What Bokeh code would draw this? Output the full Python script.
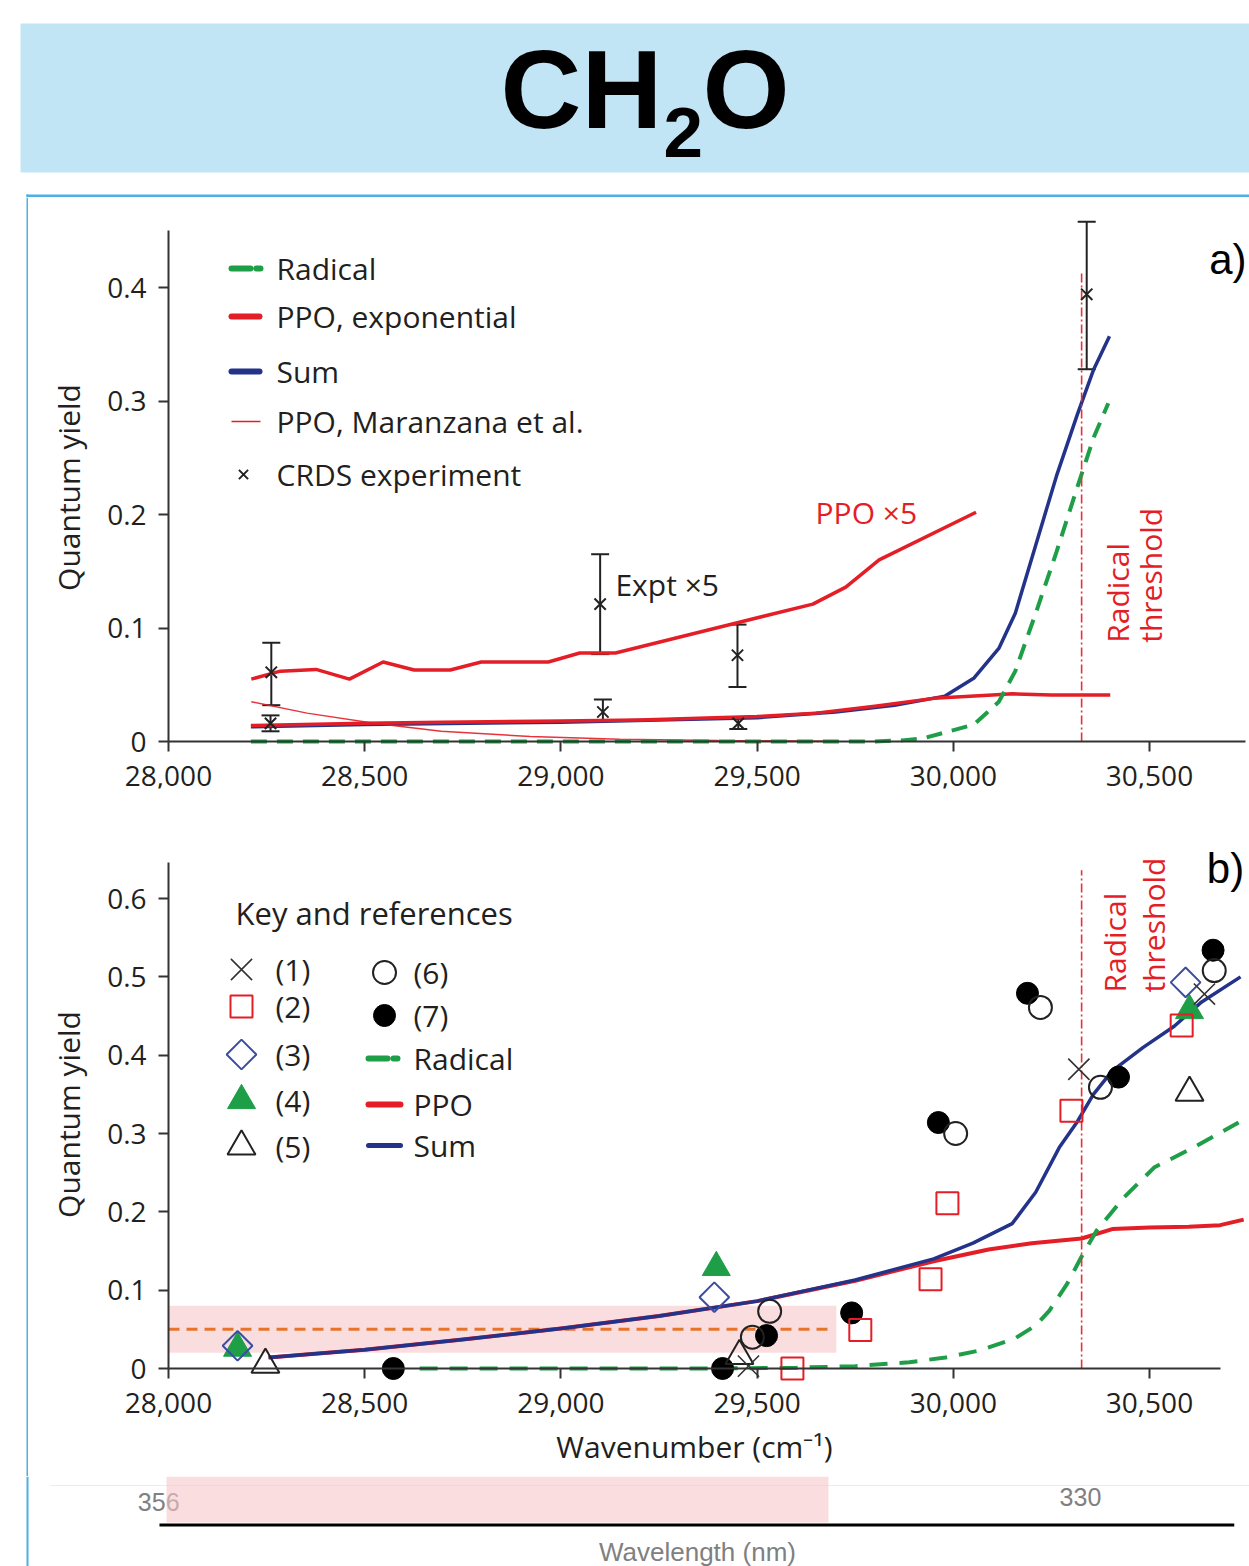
import math
from bokeh.plotting import figure
from bokeh.layouts import column, row
from bokeh.models import (Range1d, FixedTicker, NumeralTickFormatter, Whisker, TeeHead,
                          ColumnDataSource)
from bokeh.embed import file_html
from bokeh.resources import INLINE
from bokeh.core.properties import value

# ======================= DATA =======================
# ---- panel a ----
a_rad_wn = [28210, 28600, 29000, 29400, 29800, 29870, 29926, 30053, 30116, 30158, 30210, 30263, 30316, 30358, 30395]
a_rad_q = [0.0, 0.0, 0.0, 0.0, 0.0, 0.001, 0.003, 0.015, 0.035, 0.062, 0.113, 0.167, 0.224, 0.268, 0.298]
a_ppo_wn = [28210, 28500, 28700, 29000, 29200, 29500, 29650, 29800, 29950, 30100, 30150, 30250, 30400]
a_ppo_q = [0.014, 0.016, 0.017, 0.018, 0.019, 0.022, 0.025, 0.031, 0.038, 0.041, 0.042, 0.041, 0.041]
a_sum_wn = [28210, 28500, 29000, 29500, 29700, 29850, 29979, 30053, 30116, 30158, 30210, 30263, 30316, 30358, 30398]
a_sum_q = [0.013, 0.015, 0.017, 0.021, 0.026, 0.032, 0.040, 0.056, 0.082, 0.113, 0.173, 0.234, 0.288, 0.328, 0.357]
a_ppo5_wn = [28211, 28285, 28376, 28461, 28547, 28626, 28718, 28797, 28968, 29048, 29139, 29442, 29642, 29726, 29811, 30058]
a_ppo5_q = [0.055, 0.062, 0.0635, 0.055, 0.070, 0.063, 0.063, 0.070, 0.070, 0.078, 0.078, 0.104, 0.121, 0.136, 0.160, 0.202]
a_mar_wn = [28211, 28353, 28524, 28695, 28922, 29150, 29400, 29700]
a_mar_q = [0.035, 0.025, 0.016, 0.009, 0.0044, 0.002, 0.0008, 0.0002]
a_crds_wn = [28262, 29100, 29450, 28260, 29107, 29452, 30340]
a_crds_q = [0.061, 0.121, 0.076, 0.016, 0.026, 0.016, 0.394]
a_crds_hi = [0.087, 0.165, 0.103, 0.023, 0.037, 0.021, 0.458]
a_crds_lo = [0.032, 0.077, 0.048, 0.009, 0.018, 0.011, 0.328]
threshold_wn = 30327
a_threshold_top = 0.413

# ---- panel b ----
b_sum_wn = [28255, 28500, 28750, 29000, 29250, 29500, 29750, 29950, 30050, 30150, 30210, 30270, 30316, 30357, 30405, 30484, 30563, 30633, 30732]
b_sum_q = [0.014, 0.024, 0.037, 0.051, 0.067, 0.086, 0.113, 0.140, 0.160, 0.185, 0.225, 0.282, 0.315, 0.350, 0.380, 0.410, 0.437, 0.468, 0.500]
b_ppo_wn = [28255, 28500, 28750, 29000, 29250, 29500, 29750, 29950, 30090, 30200, 30327, 30405, 30500, 30600, 30680, 30740]
b_ppo_q = [0.014, 0.024, 0.037, 0.051, 0.067, 0.086, 0.112, 0.137, 0.152, 0.160, 0.166, 0.178, 0.180, 0.181, 0.183, 0.190]
b_rad_wn = [28640, 29000, 29400, 29600, 29750, 29888, 29980, 30067, 30156, 30210, 30245, 30290, 30326, 30365, 30436, 30513, 30612, 30727]
b_rad_q = [0.0, 0.0, 0.0, 0.001, 0.003, 0.008, 0.014, 0.023, 0.038, 0.055, 0.074, 0.108, 0.142, 0.176, 0.219, 0.257, 0.282, 0.314]
b_threshold_top = 0.636

ref1_wn = [30320, 30640, 29478]
ref1_q = [0.382, 0.478, 0.003]
ref2_wn = [29590, 29763, 29942, 29985, 30301, 30582]
ref2_q = [0.0, 0.049, 0.114, 0.211, 0.329, 0.438]
ref3_wn = [28176, 29391, 30592]
ref3_q = [0.029, 0.091, 0.493]
ref4_wn = [28176, 29396, 30602]
ref4_q = [0.026, 0.129, 0.457]
ref5_wn = [28247, 29455, 30602]
ref5_q = [0.005, 0.016, 0.352]
ref6_wn = [29488, 29532, 30006, 30222, 30375, 30665]
ref6_q = [0.040, 0.073, 0.300, 0.461, 0.359, 0.508]
ref7_wn = [28573, 29412, 29524, 29741, 29962, 30189, 30421, 30662]
ref7_q = [0.0, 0.0, 0.042, 0.071, 0.314, 0.479, 0.372, 0.534]

band_wn = [28000, 29702]      # pink band in panel b
band_q = [0.020, 0.080]
band_mid_q = 0.050
band_mid_end = 29682
wl_band_wn = [27995, 29682]   # pink band on the wavelength strip

a_yticks = [0, 0.1, 0.2, 0.3, 0.4]
b_yticks = [0, 0.1, 0.2, 0.3, 0.4, 0.5, 0.6]
xticks = [28000, 28500, 29000, 29500, 30000, 30500]
wl_labels = ["356", "330"]
wl_label_wn = [27975, 30324]

# ======================= STYLE / LAYOUT =======================
FONT = "Open Sans"
TXT = "#231f20"
GREEN = "#1f9e48"
RED = "#e41e26"
NAVY = "#24338a"
DBLUE = "#3a4da0"
PINK = "#f7c6ca"
ORANGE = "#e8742c"
AXC = "#333333"
FRAMEBLUE = "#4db0e5"

PX_PER_WN = 0.3924
FRAME_L = 168          # page x of 28,000 cm-1
PAGE_W = 1249
STRIP_W = 28
X0 = 28000.0
XMIN = X0 - (FRAME_L - STRIP_W) / PX_PER_WN
XMAX = X0 + (PAGE_W - FRAME_L) / PX_PER_WN
PANEL_W = PAGE_W - STRIP_W


def make_panel(height, ymin, ymax, yaxis_top, top, bottom):
    p = figure(width=PANEL_W, height=height,
               x_range=Range1d(XMIN, XMAX), y_range=Range1d(ymin, ymax),
               output_backend="svg", toolbar_location=None,
               min_border_left=0, min_border_right=0,
               min_border_top=top, min_border_bottom=bottom)
    p.grid.visible = False
    p.outline_line_color = None
    p.background_fill_color = "white"
    p.border_fill_color = "white"
    for ax in (p.xaxis[0], p.yaxis[0]):
        ax.axis_line_color = AXC
        ax.axis_line_width = 2
        ax.major_tick_line_color = AXC
        ax.major_tick_line_width = 2
        ax.major_tick_in = 0
        ax.major_tick_out = 10
        ax.minor_tick_line_color = None
        ax.major_label_text_font = FONT
        ax.major_label_text_font_size = "28px"
        ax.major_label_text_color = TXT
        ax.axis_label_text_font = FONT
        ax.axis_label_text_font_size = "30px"
        ax.axis_label_text_font_style = "normal"
        ax.axis_label_text_color = TXT
    p.xaxis.fixed_location = 0
    p.xaxis.ticker = FixedTicker(ticks=xticks)
    p.xaxis.formatter = NumeralTickFormatter(format="0,0")
    p.xaxis.major_label_standoff = 14
    p.yaxis.fixed_location = X0
    p.yaxis.formatter = NumeralTickFormatter(format="0.[0]")
    p.yaxis.major_label_standoff = 12
    p.yaxis.bounds = (0, yaxis_top)
    return p


def tx(p, x, y, s, color=TXT, size="30px", font=FONT, align="left", baseline="middle",
       angle=0.0, style="normal", **kw):
    p.text(x=[x], y=[y], text=[s], text_color=color, text_font=value(font),
           text_font_size=value(size), text_align=align, text_baseline=baseline,
           angle=angle, text_font_style=style, **kw)


def bare(width, height, xr, yr):
    f = figure(width=width, height=height, x_range=xr, y_range=yr,
               output_backend="svg", toolbar_location=None, min_border=0,
               x_axis_location=None, y_axis_location=None)
    f.grid.visible = False
    f.outline_line_color = None
    return f


# ---------------- title ----------------
title = bare(PAGE_W, 197, Range1d(0, PAGE_W), Range1d(197, 0))
title.quad(left=20, right=PAGE_W, top=23, bottom=172, fill_color="#c2e5f5", line_color=None)
title.quad(left=26, right=PAGE_W, top=194, bottom=196.5, fill_color=FRAMEBLUE, line_color=None)
title.quad(left=26, right=28, top=194, bottom=197, fill_color=FRAMEBLUE, line_color=None)
tx(title, 500, 89, "CH", color="black", size="112px", font="Liberation Sans", style="bold")
tx(title, 663, 131.5, "2", color="black", size="71px", font="Liberation Sans", style="bold")
tx(title, 702, 89, "O", color="black", size="112px", font="Liberation Sans", style="bold")

# ---------------- left blue frame strip ----------------
STRIP_H = 1566 - 197 - 90
strip = bare(STRIP_W, STRIP_H, Range1d(0, STRIP_W), Range1d(0, 1))
strip.quad(left=26, right=28, top=1, bottom=0, fill_color=FRAMEBLUE, line_color=None)

# ---------------- panel a ----------------
A_FIG_TOP, A_FIG_BOT = 197, 840
A_TOP, A_BOT = 205, 788
A_ZERO, A_PX01 = 741, 113.5
a_ymin = (A_ZERO - A_BOT) / (A_PX01 * 10)
a_ymax = (A_ZERO - A_TOP) / (A_PX01 * 10)
a_axis_top = (A_ZERO - 230) / (A_PX01 * 10)
pa = make_panel(A_FIG_BOT - A_FIG_TOP, a_ymin, a_ymax, a_axis_top, A_TOP - A_FIG_TOP, A_FIG_BOT - A_BOT)
pa.yaxis.ticker = FixedTicker(ticks=a_yticks)
pa.xaxis.bounds = (X0, 30744)
pa.extra_x_ranges = {"px": Range1d(STRIP_W, PAGE_W)}
pa.extra_y_ranges = {"px": Range1d(A_BOT, A_TOP)}
PX = dict(x_range_name="px", y_range_name="px")

pa.line(a_sum_wn, a_sum_q, line_color=NAVY, line_width=3.5, line_join="round")
pa.line(a_ppo_wn, a_ppo_q, line_color=RED, line_width=3.5, line_join="round")
pa.line(a_ppo5_wn, a_ppo5_q, line_color=RED, line_width=3.5, line_join="round")
pa.line(a_mar_wn, a_mar_q, line_color=RED, line_width=1.5, line_alpha=0.9)
pa.line(a_rad_wn, a_rad_q, line_color=GREEN, line_width=4, line_dash="16 10")
pa.segment(x0=[threshold_wn], y0=[0], x1=[threshold_wn], y1=[a_threshold_top],
           line_color="#e8303a", line_width=1.6, line_dash="9 3 2 3")
src = ColumnDataSource(dict(x=a_crds_wn, q=a_crds_q, hi=a_crds_hi, lo=a_crds_lo))
pa.add_layout(Whisker(source=src, base="x", upper="hi", lower="lo", dimension="height",
                      line_color="#222222", line_width=2,
                      upper_head=TeeHead(size=18, line_color="#222222", line_width=2),
                      lower_head=TeeHead(size=18, line_color="#222222", line_width=2)))
pa.scatter("x", "q", source=src, marker="x", size=16, line_color="#222222", line_width=2)

tx(pa, 29649, 0.2018, "PPO \u00d75", color=RED)
tx(pa, 29139, 0.138, "Expt \u00d75")
tx(pa, 30418, 0.087, "Radical", color=RED, angle=math.pi / 2)
tx(pa, 30503, 0.087, "threshold", color=RED, angle=math.pi / 2)
tx(pa, 30652, 0.4247, "a)", color="black", size="42px", font="Liberation Sans")
tx(pa, 68, 487, "Quantum yield", align="center", angle=math.pi / 2, **PX)

# key for panel a (frame pixel space)
a_key_y = [268, 316, 371, 421, 474]
a_key_t = ["Radical", "PPO, exponential", "Sum", "PPO, Maranzana et al.", "CRDS experiment"]
pa.line([231, 262], [a_key_y[0]] * 2, line_color=GREEN, line_width=6, line_dash="19 6 4 60", line_cap="round", **PX)
pa.line([231, 259], [a_key_y[1]] * 2, line_color=RED, line_width=6, line_cap="round", **PX)
pa.line([231, 259], [a_key_y[2]] * 2, line_color=NAVY, line_width=6, line_cap="round", **PX)
pa.line([231, 260], [a_key_y[3]] * 2, line_color=RED, line_width=1.5, **PX)
pa.scatter([243], [a_key_y[4]], marker="x", size=13, line_color="#222222", line_width=2, **PX)
for yy, tt in zip(a_key_y, a_key_t):
    tx(pa, 276, yy, tt, **PX)

# ---------------- panel b ----------------
B_FIG_TOP, B_FIG_BOT = 840, 1476
B_TOP, B_BOT = 840, 1476
B_ZERO, B_PX01 = 1368, 78.33
b_ymin = (B_ZERO - B_BOT) / (B_PX01 * 10)
b_ymax = (B_ZERO - B_TOP) / (B_PX01 * 10)
b_axis_top = (B_ZERO - 862) / (B_PX01 * 10)
pb = make_panel(B_FIG_BOT - B_FIG_TOP, b_ymin, b_ymax, b_axis_top, 0, 0)
pb.yaxis.ticker = FixedTicker(ticks=b_yticks)
pb.xaxis.bounds = (X0, 30680)
pb.xaxis.axis_label = "Wavenumber (cm\u207b\u00b9)"
pb.xaxis.axis_label_standoff = 10
pb.extra_x_ranges = {"px": Range1d(STRIP_W, PAGE_W)}
pb.extra_y_ranges = {"px": Range1d(B_BOT, B_TOP)}

pb.quad(left=[band_wn[0]], right=[band_wn[1]], bottom=[band_q[0]], top=[band_q[1]],
        fill_color=PINK, fill_alpha=0.6, line_color=None)
pb.line([band_wn[0], band_mid_end], [band_mid_q, band_mid_q], line_color=ORANGE, line_width=3, line_dash="11 7")
pb.line(b_ppo_wn, b_ppo_q, line_color=RED, line_width=4, line_join="round")
pb.line(b_sum_wn, b_sum_q, line_color=NAVY, line_width=3.5, line_join="round")
pb.line(b_rad_wn, b_rad_q, line_color=GREEN, line_width=4, line_dash="18 12")
pb.segment(x0=[threshold_wn], y0=[0], x1=[threshold_wn], y1=[b_threshold_top],
           line_color="#e8303a", line_width=1.6, line_dash="9 3 2 3")

M1 = dict(marker="x", size=30, line_color="#333333", line_width=1.6)
M2 = dict(marker="square", size=22, fill_color=None, line_color=RED, line_width=2)
M3 = dict(marker="square", size=21, angle=math.pi / 4, fill_color=None, line_color=DBLUE, line_width=2)
M4 = dict(marker="triangle", size=28, fill_color=GREEN, line_color=GREEN, line_width=1)
M5 = dict(marker="triangle", size=28, fill_color=None, line_color="#222222", line_width=2)
M6 = dict(marker="circle", size=23, fill_color=None, line_color="#222222", line_width=2)
M7 = dict(marker="circle", size=22, fill_color="black", line_color="black")

pb.scatter(ref7_wn, ref7_q, **M7)
pb.scatter(ref6_wn, ref6_q, **M6)
pb.scatter(ref4_wn, ref4_q, **M4)
pb.scatter(ref3_wn, ref3_q, **M3)
pb.scatter(ref5_wn, ref5_q, **M5)
pb.scatter(ref2_wn, ref2_q, **M2)
pb.scatter(ref1_wn, ref1_q, **M1)

tx(pb, 30411, 0.48, "Radical", color=RED, angle=math.pi / 2)
tx(pb, 30509, 0.48, "threshold", color=RED, angle=math.pi / 2)
tx(pb, 30646, 0.6386, "b)", color="black", size="42px", font="Liberation Sans")
tx(pb, 68, 1114, "Quantum yield", align="center", angle=math.pi / 2, **PX)

# manual key (drawn in the frame's pixel space)
tx(pb, 235, 912, "Key and references", size="31px", **PX)
col1_y = [969, 1006, 1054, 1100, 1146]
col1_m = [M1, M2, M3, M4, M5]
col1_t = ["(1)", "(2)", "(3)", "(4)", "(5)"]
for yy, mm, tt in zip(col1_y, col1_m, col1_t):
    pb.scatter([241], [yy], **mm, **PX)
    tx(pb, 275, yy, tt, **PX)
col2_y = [972, 1015, 1058, 1104, 1145]
pb.scatter([384], [col2_y[0]], **M6, **PX)
pb.scatter([384], [col2_y[1]], **M7, **PX)
pb.line([368, 401], [col2_y[2]] * 2, line_color=GREEN, line_width=6, line_dash="19 6 4 60", line_cap="round", **PX)
pb.line([368, 400], [col2_y[3]] * 2, line_color=RED, line_width=6, line_cap="round", **PX)
pb.line([368, 400], [col2_y[4]] * 2, line_color=NAVY, line_width=5, line_cap="round", **PX)
for yy, tt in zip(col2_y, ["(6)", "(7)", "Radical", "PPO", "Sum"]):
    tx(pb, 413, yy, tt, **PX)

# ---------------- wavelength strip (full page width) ----------------
WL_XMIN = X0 - FRAME_L / PX_PER_WN
pw = bare(PAGE_W, 90, Range1d(WL_XMIN, XMAX), Range1d(1566, 1476))
pw.extra_x_ranges = {"px": Range1d(0, PAGE_W)}
pw.quad(left=[26], right=[28], top=[1476], bottom=[1566], fill_color=FRAMEBLUE, line_color=None,
        x_range_name="px")
pw.segment(x0=[X0 - 118 / PX_PER_WN], y0=[1485], x1=[XMAX], y1=[1485], line_color="#ececec", line_width=1)
for s, w, yy in zip(wl_labels, wl_label_wn, [1501, 1496]):
    tx(pw, w, yy, s, color="#808080", size="25px", font="Liberation Sans", align="center")
pw.quad(left=[wl_band_wn[0]], right=[wl_band_wn[1]], top=[1476], bottom=[1522],
        fill_color=PINK, fill_alpha=0.6, line_color=None)
pw.segment(x0=[27977], y0=[1524.5], x1=[30716], y1=[1524.5], line_color="black", line_width=3)
tx(pw, 29348, 1551, "Wavelength (nm)", color="#808080", size="26px", font="Liberation Sans", align="center")

layout = column(title, row(strip, column(pa, pb)), pw)
open("out.html", "w").write(file_html(layout, INLINE))
